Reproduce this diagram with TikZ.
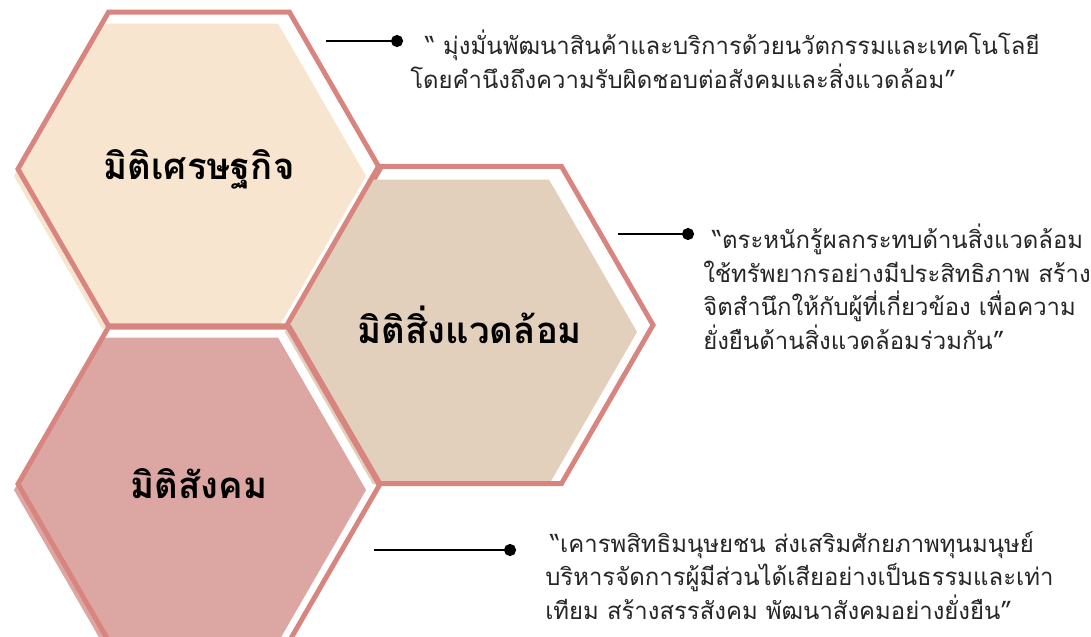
\documentclass[tikz,border=0pt]{standalone}
\usepackage{fontspec}
\newfontfamily\thaifont[Script=Thai]{Loma}
\usetikzlibrary{shapes.geometric,positioning,arrows.meta}

\definecolor{hexrose}{HTML}{D8857F}
\definecolor{ecofill}{HTML}{F7E5CF}
\definecolor{envfill}{HTML}{E3D0BC}
\definecolor{socfill}{HTML}{DCA6A2}
\definecolor{quotetext}{HTML}{262626}

\tikzset{
  hexa/.style={regular polygon, regular polygon sides=6, minimum size=9.05cm,
    inner sep=0pt, draw=hexrose, line width=3.5pt},
  hexshade/.style={regular polygon, regular polygon sides=6, minimum size=8.8cm,
    inner sep=0pt},
  dimlabel/.style={font=\thaifont\bfseries\fontsize{26}{30}\selectfont},
  quote/.style={font=\thaifont\fontsize{17}{23.8}\selectfont, align=left,
    anchor=north west, inner sep=0pt, text=quotetext},
  pointer/.style={line width=2pt, -{Circle[length=8.5pt]}},
}

\begin{document}
\begin{tikzpicture}[x=0.025cm,y=-0.025cm]
    \useasboundingbox (0,0) rectangle (1091,637);

    % Economic
    \node[hexshade, fill=ecofill] (ecoshade) at (190,176) {};
    \node[hexa, dimlabel] (eco) at (199,169) {มิติเศรษฐกิจ};
    % Environment
    \node[hexshade, fill=envfill] (envshade) at (461,332) {};
    \node[hexa, dimlabel] (env) at (470,325) {มิติสิ่งแวดล้อม};
    % Social
    \node[hexshade, fill=socfill] (socshade) at (190,490) {};
    \node[hexa, dimlabel] (soc) at (199,484) {มิติสังคม};

    % Quotes
    \node[quote] (ecoquote) at (410,30) {\hspace*{0.375cm}“ มุ่งมั่นพัฒนาสินค้าและบริการด้วยนวัตกรรมและเทคโนโลยี\\
        โดยคำนึงถึงความรับผิดชอบต่อสังคมและสิ่งแวดล้อม”};
    \node[quote] (envquote) at (703,224) {\hspace*{0.225cm}“ตระหนักรู้ผลกระทบด้านสิ่งแวดล้อม\\
        ใช้ทรัพยากรอย่างมีประสิทธิภาพ สร้าง\\
        จิตสำนึกให้กับผู้ที่เกี่ยวข้อง เพื่อความ\\
        ยั่งยืนด้านสิ่งแวดล้อมร่วมกัน”};
    \node[quote] (socquote) at (545,531) {\hspace*{0.125cm}“เคารพสิทธิมนุษยชน ส่งเสริมศักยภาพทุนมนุษย์\\
        บริหารจัดการผู้มีส่วนได้เสียอย่างเป็นธรรมและเท่า\\
        เทียม สร้างสรรสังคม พัฒนาสังคมอย่างยั่งยืน”};

    % Pointers
    \coordinate (ecofrom) at (326,41);
    \coordinate (ecoto) at (403,41);
    \coordinate (envfrom) at (618,234);
    \coordinate (envto) at (694,234);
    \coordinate (socfrom) at (374,550);
    \coordinate (socto) at (516,550);
    \draw[pointer] (ecofrom) -- (ecoto);
    \draw[pointer] (envfrom) -- (envto);
    \draw[pointer] (socfrom) -- (socto);
\end{tikzpicture}
\end{document}
